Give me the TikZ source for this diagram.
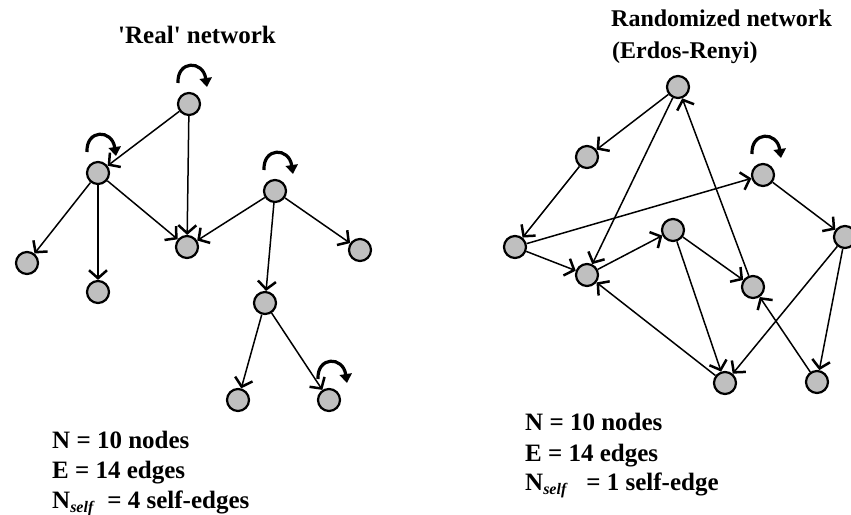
\documentclass[tikz,border=0pt]{standalone}
\usepackage{fontspec}
\setmainfont{Liberation Serif}
\usetikzlibrary{arrows.meta,calc}
\begin{document}
\begin{tikzpicture}[x=1pt,y=-1pt,
 nd/.style={circle,draw,line width=2.2pt,fill=gray!50,minimum size=22pt,inner sep=0pt},
 edge/.style={line width=1.5pt,-{Straight Barb[length=8pt,width=18pt,line width=2.5pt]}},
 loopar/.style={line width=3.2pt,-{Triangle[length=9pt,width=12pt]}},
 txt/.style={inner sep=0pt,anchor=base west,font=\fontsize{25}{30}\selectfont\bfseries}]
\useasboundingbox[fill=white] (0,0) rectangle (851,514);
\newcommand{\selfloop}[1]{\draw[loopar] ($(#1)+(-11,-21)$) .. controls ($(#1)+(-12,-44)$) and ($(#1)+(14,-44)$) .. ($(#1)+(18,-17)$);}
% left network
\node[nd] (L1) at (189,104) {};
\node[nd] (L2) at (98,173) {};
\node[nd] (L3) at (275,191) {};
\node[nd] (L4) at (187,247) {};
\node[nd] (L5) at (360,250) {};
\node[nd] (L6) at (27,263) {};
\node[nd] (L7) at (98,292) {};
\node[nd] (L8) at (265,303) {};
\node[nd] (L9) at (238,400) {};
\node[nd] (L10) at (329,400) {};
\draw[edge] (L1) -- (L2);
\draw[edge] (L1) -- (L4);
\draw[edge] (L2) -- (L6);
\draw[edge] (L2) -- (L7);
\draw[edge] (L2) -- (L4);
\draw[edge] (L3) -- (L4);
\draw[edge] (L3) -- (L5);
\draw[edge] (L3) -- (L8);
\draw[edge] (L8) -- (L9);
\draw[edge] (L8) -- (L10);
\selfloop{L1}
\selfloop{L2}
\selfloop{L3}
\selfloop{L10}
% right network
\node[nd] (R1) at (678,87) {};
\node[nd] (R2) at (587,157) {};
\node[nd] (R3) at (763,175) {};
\node[nd] (R4) at (515,247) {};
\node[nd] (R5) at (673,230) {};
\node[nd] (R6) at (587,275) {};
\node[nd] (R7) at (845,237) {};
\node[nd] (R8) at (753,287) {};
\node[nd] (R9) at (725,383) {};
\node[nd] (R10) at (817,382) {};
\draw[edge] (R1) -- (R2);
\draw[edge] (R1) -- (R6);
\draw[edge] (R8) -- (R1);
\draw[edge] (R2) -- (R4);
\draw[edge] (R4) -- (R3);
\draw[edge] (R4) -- (R6);
\draw[edge] (R6) -- (R5);
\draw[edge] (R5) -- (R8);
\draw[edge] (R5) -- (R9);
\draw[edge] (R3) -- (R7);
\draw[edge] (R7) -- (R9);
\draw[edge] (R7) -- (R10);
\draw[edge] (R9) -- (R6);
\draw[edge] (R10) -- (R8);
\selfloop{R3}
% texts
\node[txt] (t1) at (118,43) {\textquotesingle Real\textquotesingle{} network};
\node[txt,font=\fontsize{24}{29}\selectfont\bfseries] (t2) at (611,27) {Randomized network};
\node[txt,font=\fontsize{24}{29}\selectfont\bfseries] (t3) at (612,58) {(Erdos-Renyi)};
\node[txt] (a1) at (52,448) {N = 10 nodes};
\node[txt] (a2) at (52,478) {E = 14 edges};
\node[txt] (a3) at (52,508) {N\raisebox{-4pt}{\fontsize{16}{16}\selectfont\itshape self}\hspace{14pt}= 4 self-edges};
\node[txt] (b1) at (525,430) {N = 10 nodes};
\node[txt] (b2) at (525,461) {E = 14 edges};
\node[txt] (b3) at (525,490) {N\raisebox{-4pt}{\fontsize{16}{16}\selectfont\itshape self}\hspace{20pt}= 1 self-edge};
\end{tikzpicture}
\end{document}
